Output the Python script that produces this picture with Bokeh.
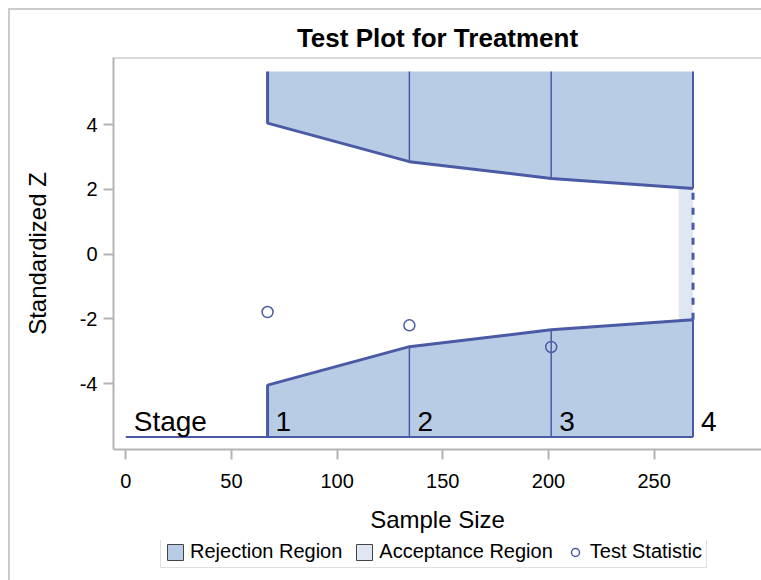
from bokeh.plotting import figure
from bokeh.layouts import column
from bokeh.models import Range1d, FixedTicker, Span, Legend, LegendItem
from bokeh.embed import file_html
from bokeh.resources import INLINE
from bokeh.core.properties import value

# ---- data ----
stage_labels = ["1", "2", "3", "4"]
sample_size = [67.1, 134.2, 201.3, 268.4]
upper_bound = [4.05, 2.86, 2.34, 2.03]
lower_bound = [-4.05, -2.86, -2.34, -2.03]
test_stat = [-1.79, -2.20, -2.87]
region_top = 5.65
region_bottom = -5.65
accept_left = 261.6
x_ticks = [0, 50, 100, 150, 200, 250]
y_ticks = [-4, -2, 0, 2, 4]

FONT = "Liberation Sans"
LINE = "#4a5aa5"
REJ = "#b8cde5"
ACC = "#dfe7f2"
FRAME = "#b4b4b4"

p = figure(width=751, height=530, output_backend="svg", toolbar_location=None,
           x_range=Range1d(-5.8, 300.8), y_range=Range1d(-6.04, 6.08),
           min_border_left=103, min_border_right=0, min_border_top=47,
           min_border_bottom=91)
p.outline_line_color = None
p.grid.visible = False

n1, n4 = sample_size[0], sample_size[-1]

# rejection regions
ux = [n1, n4] + sample_size[::-1]
uy = [region_top, region_top] + upper_bound[::-1]
p.patch(ux, uy, fill_color=REJ, line_color=None)
lx = [n1, n4] + sample_size[::-1]
ly = [region_bottom, region_bottom] + lower_bound[::-1]
p.patch(lx, ly, fill_color=REJ, line_color=None)

# acceptance region
p.quad(left=[accept_left], right=[n4], bottom=[lower_bound[-1]], top=[upper_bound[-1]],
       fill_color=ACC, line_color=None)

# stage separators
mid = sample_size[1:3]
p.segment(x0=mid, y0=upper_bound[1:3], x1=mid, y1=[region_top] * 2,
          line_color=LINE, line_width=1.5)
p.segment(x0=mid, y0=lower_bound[1:3], x1=mid, y1=[region_bottom] * 2,
          line_color=LINE, line_width=1.5)
p.segment(x0=[n4, n4], y0=[upper_bound[-1], lower_bound[-1]], x1=[n4, n4],
          y1=[region_top, region_bottom], line_color=LINE, line_width=2)

# boundaries
p.line([n1] + sample_size, [region_top] + upper_bound, line_color=LINE, line_width=3)
p.line([n1] + sample_size, [region_bottom] + lower_bound, line_color=LINE, line_width=3)
p.line([0, n4], [region_bottom, region_bottom], line_color=LINE, line_width=2)
p.line([n4, n4], [lower_bound[-1], upper_bound[-1]], line_color=LINE, line_width=3,
       line_dash="7 8")

# test statistics
p.scatter(sample_size[:3], test_stat, marker="circle", size=11, fill_color=None,
          line_color=LINE, line_width=1.5)

# stage labels
p.text(x=[0] + sample_size, y=[region_bottom] * 5, text=["Stage"] + stage_labels,
       x_offset=8, y_offset=-15, text_baseline="alphabetic", text_align="left",
       text_font=value(FONT), text_font_size="28px", text_color="black")

# top frame line
p.add_layout(Span(location=6.08, dimension="width", line_color=FRAME, line_width=2))

# title
p.title.text = "Test Plot for Treatment"
p.title.align = "center"
p.title.text_font = FONT
p.title.text_font_size = "26px"
p.title.text_font_style = "bold"
p.title.text_color = "black"

# axes
for ax in (p.xaxis[0], p.yaxis[0]):
    ax.axis_line_color = FRAME
    ax.axis_line_width = 2
    ax.major_tick_line_color = FRAME
    ax.major_tick_line_width = 2
    ax.major_tick_out = 10
    ax.major_tick_in = 0
    ax.minor_tick_out = 0
    ax.minor_tick_in = 0
    ax.major_label_text_font = FONT
    ax.major_label_text_font_size = "20px"
    ax.major_label_text_color = "black"
    ax.axis_label_text_font = FONT
    ax.axis_label_text_font_size = "24px"
    ax.axis_label_text_font_style = "normal"
    ax.axis_label_text_color = "black"

p.xaxis.ticker = FixedTicker(ticks=x_ticks)
p.yaxis.ticker = FixedTicker(ticks=y_ticks)
p.yaxis.major_label_overrides = {t: str(t) for t in y_ticks}
p.xaxis.axis_label = "Sample Size"
p.yaxis.axis_label = "Standardized Z"
p.xaxis.major_label_standoff = 14
p.xaxis.axis_label_standoff = 15
p.yaxis.major_label_standoff = 6
p.yaxis.axis_label_standoff = 26

# ---- legend strip (separate canvas so that it is not clipped) ----
leg = figure(width=751, height=40, output_backend="svg", toolbar_location=None,
             x_range=Range1d(0, 1), y_range=Range1d(0, 1), min_border=0,
             x_axis_location=None, y_axis_location=None)
leg.outline_line_color = None
leg.grid.visible = False
r_rej = leg.quad(left=[n1], right=[n4], bottom=[upper_bound[-1]], top=[region_top],
                 fill_color=REJ, line_color="#444444", line_width=1, visible=False)
r_acc = leg.quad(left=[accept_left], right=[n4], bottom=[lower_bound[-1]],
                 top=[upper_bound[-1]], fill_color=ACC, line_color="#444444",
                 line_width=1, visible=False)
r_ts = leg.scatter(sample_size[:3], test_stat, marker="circle", size=11, fill_color=None,
                   line_color=LINE, line_width=1.5, visible=False)
legend = Legend(items=[LegendItem(label="Rejection Region", renderers=[r_rej], index=0),
                       LegendItem(label="Acceptance Region", renderers=[r_acc], index=0),
                       LegendItem(label="Test Statistic", renderers=[r_ts], index=0)],
                orientation="horizontal", location=(47, 12),
                label_text_font=FONT, label_text_font_size="20px",
                label_text_color="black", glyph_width=20, glyph_height=20,
                padding=4, spacing=12, label_standoff=5, margin=0,
                border_line_color="#c0c0c0", border_line_width=1.5,
                background_fill_color="white", background_fill_alpha=1)
leg.add_layout(legend)

layout = column(p, leg, spacing=0)
layout.styles = {"margin-left": "8px", "margin-top": "8px",
                 "border-left": "2px solid #cccccc", "border-top": "2px solid #cccccc"}

open("out.html", "w").write(file_html(layout, INLINE))
